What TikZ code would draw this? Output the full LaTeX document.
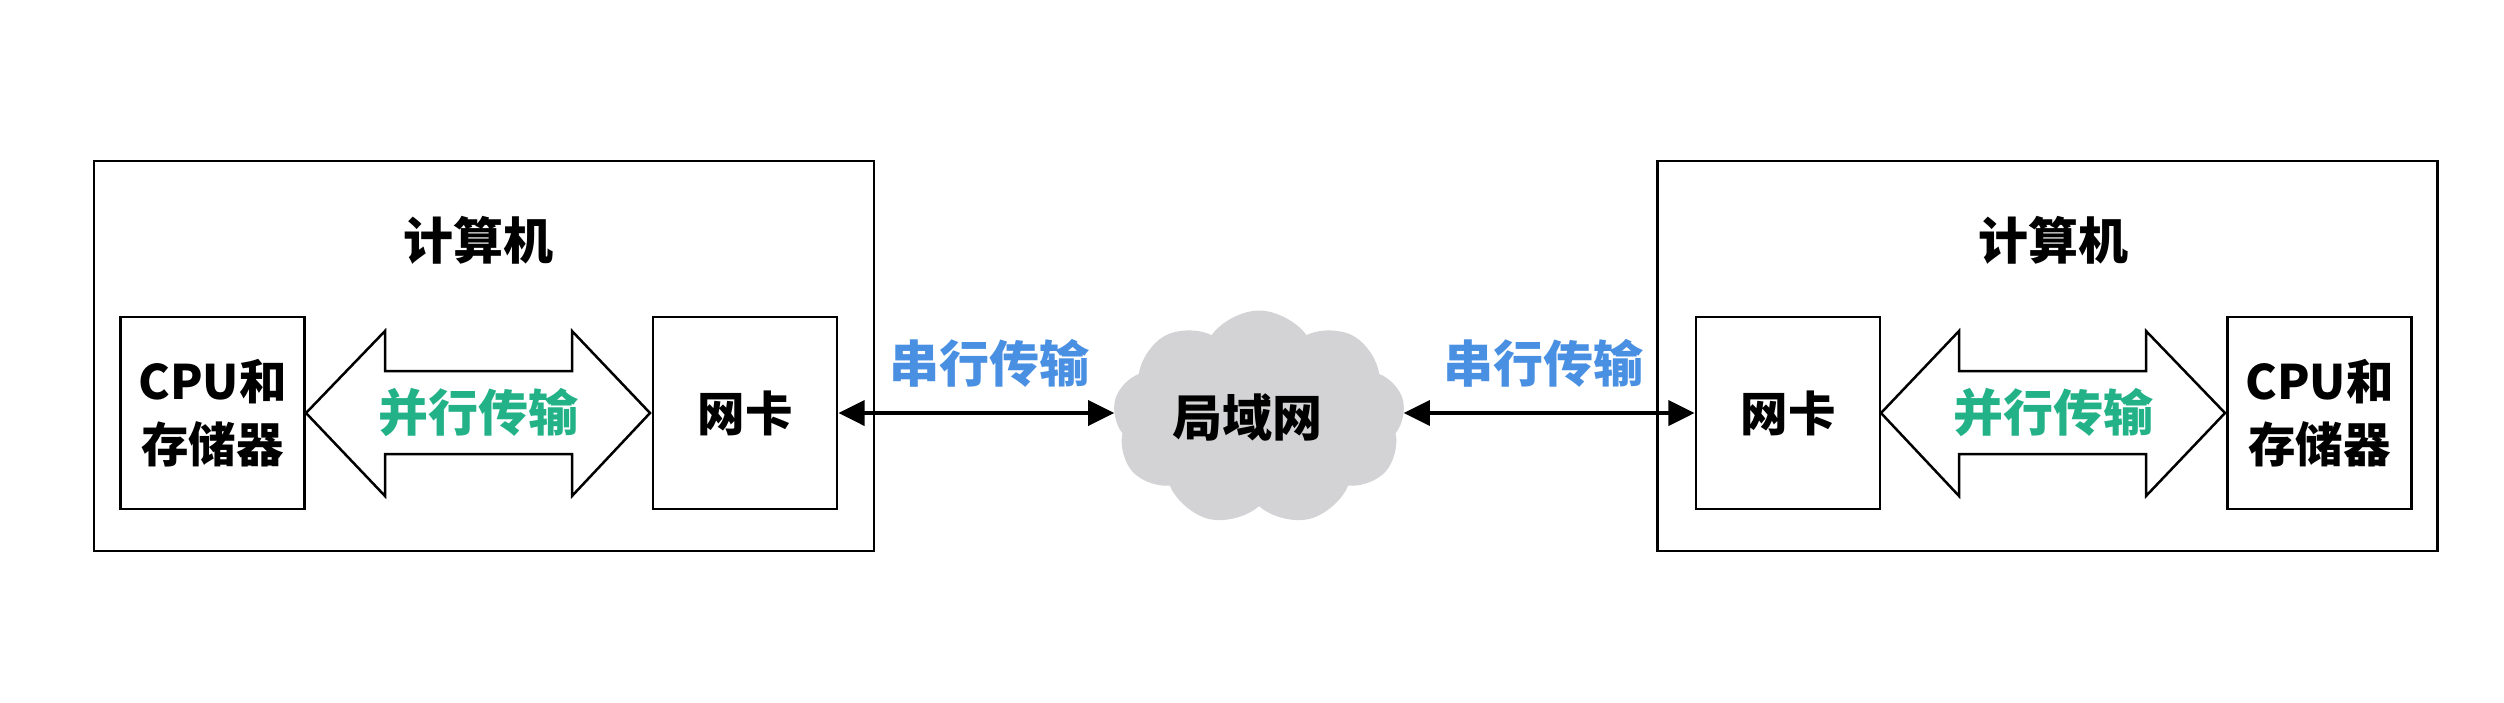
\documentclass[tikz,border=0pt]{standalone}
\usepackage{fontspec}
\newfontfamily\cjk{Noto Sans CJK SC}
\usetikzlibrary{arrows.meta,shapes.symbols}
\definecolor{pgreen}{RGB}{35,178,135}
\definecolor{sblue}{RGB}{74,144,226}
\definecolor{cloudgray}{RGB}{211,211,213}
\begin{document}
\begin{tikzpicture}[x=0.4pt,y=-0.4pt,
  txt/.style={font=\cjk\bfseries\fontsize{20}{25}\selectfont, inner sep=0pt},
  outerbox/.style={draw, line width=1pt, minimum width=312pt, minimum height=156pt, inner sep=0pt},
  unitbox/.style={draw, line width=1.1pt, minimum width=73.6pt, minimum height=76.8pt, inner sep=0pt, align=center,
    font=\cjk\bfseries\fontsize{19}{25}\selectfont},
  bigarrow/.style={draw, line width=1pt, fill=white, line join=miter},
  serial/.style={line width=1.6pt, {Triangle[length=10.5pt,width=10pt]}-{Triangle[length=10.5pt,width=10pt]}},
  serlabel/.style={txt, text=sblue},
  parlabel/.style={txt, text=pgreen}]
\useasboundingbox (0,0) rectangle (2504,702);
\fill[white] (0,0) rectangle (2504,702);

% left computer
\node[outerbox] (L) at (484,356) {};
\node[txt] (Lt) at (478,240) {计算机};
\node[unitbox] (Lcpu) at (212.5,413) {CPU和\\存储器};
\node[unitbox] (Lnic) at (745,413) {网卡};
\draw[bigarrow] (306,413) -- (385,331) -- (385,371) -- (572,371) -- (572,331) -- (650,413)
  -- (572,496) -- (572,454) -- (385,454) -- (385,496) -- cycle;
\node[parlabel] (Lpar) at (478,413) {并行传输};

% cloud
\node[cloud, cloud puffs=9, cloud puff arc=110, aspect=1.37, fill=cloudgray,
  minimum width=116.8pt, minimum height=86pt, inner sep=0pt] (lan) at (1259,418) {};
\node[txt] (lant) at (1247,417) {局域网};

% right computer
\node[outerbox] (R) at (2047.5,356) {};
\node[txt] (Rt) at (2053,240) {计算机};
\node[unitbox] (Rnic) at (1788,413) {网卡};
\node[unitbox] (Rcpu) at (2319.5,413) {CPU和\\存储器};
\draw[bigarrow] (2225,413) -- (2146,331) -- (2146,371) -- (1959,371) -- (1959,331) -- (1881,413)
  -- (1959,496) -- (1959,454) -- (2146,454) -- (2146,496) -- cycle;
\node[parlabel] (Rpar) at (2053,413) {并行传输};

% serial links
\draw[serial] (Lnic.east) -- (lan.west |- Lnic.east);
\draw[serial] (lan.east |- Rnic.west) -- (Rnic.west);
\node[serlabel] (s1) at (989,363) {串行传输};
\node[serlabel] (s2) at (1543,363) {串行传输};
\end{tikzpicture}
\end{document}
